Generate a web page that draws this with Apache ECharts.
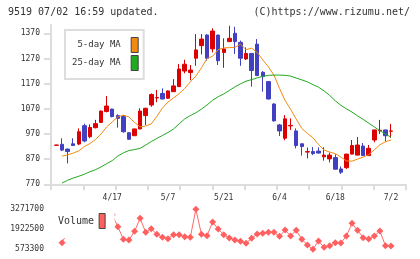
<!DOCTYPE html>
<html>
<head>
<meta charset="utf-8">
<script src="https://cdn.jsdelivr.net/npm/echarts@6/dist/echarts.min.js"></script>
<style>
  html, body { margin: 0; padding: 0; background: #fff; }
  #chart { width: 420px; height: 259px; }
</style>
</head>
<body>
<div id="chart"></div>
<script>
// trading days (2020), one candle each
const dates = ['4/3', '4/6', '4/7', '4/8', '4/9', '4/10', '4/13', '4/14', '4/15', '4/16',
  '4/17', '4/20', '4/21', '4/22', '4/23', '4/24', '4/27', '4/28', '4/30', '5/1',
  '5/7', '5/8', '5/11', '5/12', '5/13', '5/14', '5/15', '5/18', '5/19', '5/20',
  '5/21', '5/22', '5/25', '5/26', '5/27', '5/28', '5/29', '6/1', '6/2', '6/3',
  '6/4', '6/5', '6/8', '6/9', '6/10', '6/11', '6/12', '6/15', '6/16', '6/17',
  '6/18', '6/19', '6/22', '6/23', '6/24', '6/25', '6/26', '6/29', '6/30', '7/1', '7/2'];

// [open, close, low, high]
const candles = [
  [925, 926, 924, 927], [929, 906, 902, 953], [910, 900, 853, 912], [931, 924, 923, 953],
  [930, 979, 926, 992], [1003, 942, 937, 1011], [959, 996, 953, 1008], [995, 1011, 992, 1026],
  [1016, 1061, 1014, 1063], [1059, 1081, 1056, 1121], [1069, 1039, 1036, 1070], [1043, 1032, 995, 1048],
  [1039, 979, 975, 1045], [975, 949, 947, 976], [963, 990, 962, 991], [990, 1061, 989, 1072],
  [1043, 1072, 1006, 1074], [1085, 1127, 1078, 1131], [1113, 1115, 1096, 1145], [1131, 1109, 1108, 1151],
  [1112, 1141, 1110, 1143], [1138, 1161, 1137, 1188], [1158, 1228, 1157, 1248], [1220, 1247, 1211, 1265],
  [1214, 1224, 1184, 1244], [1271, 1304, 1241, 1367], [1321, 1347, 1286, 1367], [1363, 1271, 1261, 1367],
  [1308, 1379, 1294, 1390], [1363, 1261, 1244, 1364], [1294, 1308, 1233, 1350], [1337, 1350, 1335, 1400],
  [1370, 1337, 1288, 1396], [1334, 1271, 1241, 1341], [1268, 1290, 1264, 1314], [1290, 1222, 1158, 1291],
  [1327, 1202, 1200, 1347], [1215, 1198, 1138, 1220], [1178, 1109, 1107, 1179], [1089, 1022, 1019, 1092],
  [1006, 982, 962, 1010], [953, 1030, 945, 1045], [1002, 1004, 986, 1032], [982, 924, 913, 992],
  [931, 920, 884, 932], [898, 900, 873, 916], [900, 892, 886, 918], [902, 894, 893, 917],
  [879, 886, 864, 917], [871, 886, 857, 896], [876, 830, 829, 889], [831, 818, 811, 841],
  [836, 890, 831, 891], [890, 924, 889, 946], [886, 926, 885, 958], [922, 884, 883, 934],
  [884, 913, 883, 926], [946, 986, 937, 987], [983, 985, 970, 1026], [986, 963, 939, 987],
  [981, 982, 955, 1010]];

const ma5 = ['-', 882, 887, 894, 903, 920, 932, 948, 970, 998,
  1018, 1038, 1045, 1038, 1016, 998, 1002, 1010, 1040, 1073,
  1097, 1113, 1130, 1151, 1177, 1200, 1233, 1270, 1279, 1305,
  1312, 1313, 1314, 1327, 1305, 1311, 1294, 1264, 1237, 1204,
  1151, 1103, 1068, 1029, 992, 972, 955, 928, 906, 898,
  892, 878, 863, 862, 870, 878, 888, 907, 927, 939, 946];

const ma25 = ['-', 775, 786, 795, 802, 810, 820, 828, 839, 852,
  864, 882, 895, 904, 908, 913, 926, 940, 952, 964,
  976, 990, 1010, 1030, 1043, 1054, 1069, 1085, 1104, 1118,
  1129, 1143, 1157, 1169, 1180, 1186, 1193, 1199, 1203, 1204,
  1204, 1203, 1200, 1192, 1185, 1177, 1166, 1156, 1141, 1123,
  1102, 1084, 1070, 1057, 1042, 1028, 1013, 998, 983, 970, 957];

const volume = ['-', 1020700, 1750000, 1900000, 2300000, 2000000, 1800000, 1900000, 2400000, 2600000,
  2900000, 2100100, 1245600, 1200600, 1785300, 2662300, 1717800, 1965200, 1582900, 1380500,
  1290600, 1560400, 1560400, 1425500, 1380500, 3271700, 1582900, 1493000, 2414900, 1942700,
  1560400, 1335500, 1200600, 1110700, 975800, 1313000, 1605400, 1650400, 1717800, 1717800,
  1448000, 1875200, 1470500, 1852700, 1245600, 863300, 573300, 1133200, 706000, 818400,
  1020700, 998200, 1470500, 2325000, 1852700, 1358000, 1268100, 1470500, 1807800, 818400, 795900];

const priceTicks = [770, 870, 970, 1070, 1170, 1270, 1370];
const volumeTicks = [573300, 1922500, 3271700];
const dateLabels = ['4/17', '5/7', '5/21', '6/4', '6/18', '7/2'];

const FONT = 'DejaVu Sans Mono';
const UP = '#dd0000', DOWN = '#4040c0';
const AXIS = '#dddddd';
const plain = (v) => String(v);

const chart = echarts.init(document.getElementById('chart'), null, { renderer: 'canvas' });

chart.setOption({
  animation: false,
  textStyle: { fontFamily: FONT, color: '#333' },
  title: [
    { text: '9519 07/02 16:59 updated.', left: 8, top: 7, padding: 0,
      textStyle: { fontFamily: FONT, fontSize: 10, fontWeight: 'normal', color: '#333' } },
    { text: '(C)https://www.rizumu.net/', right: 10, top: 7, padding: 0,
      textStyle: { fontFamily: FONT, fontSize: 10, fontWeight: 'normal', color: '#333' } },
  ],
  legend: [
    {
      data: ['5-day MA', '25-day MA'],
      orient: 'vertical',
      align: 'right',
      left: 65, top: 30,
      padding: [7, 5, 8, 7],
      itemGap: 2, itemWidth: 7, itemHeight: 15,
      icon: 'rect',
      selectedMode: false,
      backgroundColor: '#fff',
      borderColor: AXIS, borderWidth: 2,
      itemStyle: { borderColor: '#444', borderWidth: 1 },
      formatter: (name) => name + ' ',
      textStyle: { fontFamily: FONT, fontSize: 9, color: '#333' },
    },
    {
      data: ['Volume'],
      align: 'right',
      left: 55, top: 210,
      padding: [3, 9, 9, 3],
      itemWidth: 6, itemHeight: 15,
      icon: 'rect',
      selectedMode: false,
      backgroundColor: '#fff',
      itemStyle: { borderColor: '#444', borderWidth: 1 },
      textStyle: { fontFamily: FONT, fontSize: 10, color: '#333' },
    },
  ],
  grid: [
    { left: 51, width: 355, top: 25, height: 159.3 },     // frame: axis lines + price labels
    { left: 53.7, width: 340.1, top: 25, height: 159.3 }, // candles
    { left: 53.7, width: 340.1, top: 209.3, height: 40 }, // volume
  ],
  xAxis: [
    {
      gridIndex: 0, type: 'value', min: 0, max: 11, interval: 1,
      axisLine: { lineStyle: { color: AXIS, width: 2 } },
      axisTick: { length: 6, lineStyle: { color: AXIS, width: 2 } },
      axisLabel: { show: false },
      splitLine: { show: false },
    },
    {
      gridIndex: 1, type: 'category', data: dates,
      axisLine: { show: false },
      axisTick: { show: false },
      axisLabel: {
        interval: (i) => dateLabels.includes(dates[i]),
        margin: 10, fontSize: 8, fontFamily: FONT, color: '#333',
      },
    },
    { gridIndex: 2, type: 'category', data: dates, show: false },
  ],
  yAxis: [
    {
      gridIndex: 0, type: 'value', min: 770, max: 1403,
      axisLine: { show: true, lineStyle: { color: AXIS, width: 2 } },
      axisTick: { show: true, length: 7, customValues: priceTicks, lineStyle: { color: AXIS, width: 2 } },
      axisLabel: { customValues: priceTicks, formatter: plain, margin: 11, fontSize: 8, fontFamily: FONT, color: '#333' },
      splitLine: { show: false },
    },
    { gridIndex: 1, type: 'value', min: 770, max: 1403, show: false },
    {
      gridIndex: 2, type: 'value', min: 573300, max: 3271700,
      axisLine: { show: false },
      axisTick: { show: false },
      axisLabel: { customValues: volumeTicks, formatter: plain, margin: 9.7, fontSize: 8, fontFamily: FONT, color: '#333' },
      splitLine: { show: false },
    },
  ],
  series: [
    {
      type: 'candlestick', xAxisIndex: 1, yAxisIndex: 1,
      data: candles, barWidth: 4,
      itemStyle: { color: UP, color0: DOWN, borderColor: UP, borderColor0: DOWN, borderWidth: 1 },
    },
    {
      name: '5-day MA', type: 'line', xAxisIndex: 1, yAxisIndex: 1,
      data: ma5, showSymbol: false, color: '#f08a10',
      lineStyle: { width: 1, color: '#f08a10' },
    },
    {
      name: '25-day MA', type: 'line', xAxisIndex: 1, yAxisIndex: 1,
      data: ma25, showSymbol: false, color: '#1faa1f',
      lineStyle: { width: 1, color: '#1faa1f' },
    },
    {
      name: 'Volume', type: 'line', xAxisIndex: 2, yAxisIndex: 2,
      data: volume, color: '#ff5f5f',
      symbol: 'diamond', symbolSize: 7, showAllSymbol: true,
      lineStyle: { width: 1, color: '#ff6b6b' },
      itemStyle: { color: '#ff5f5f' },
    },
  ],
});
</script>
</body>
</html>
